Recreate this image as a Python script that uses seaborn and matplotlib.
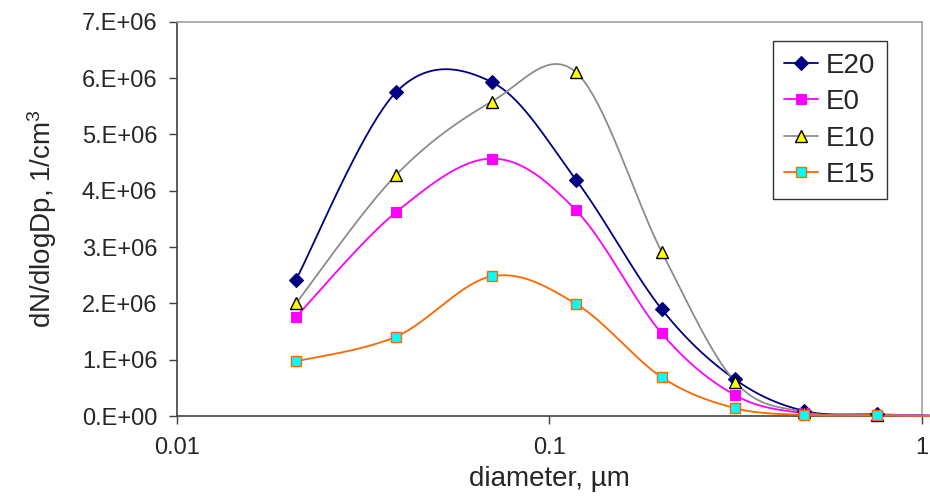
import numpy as np
import pandas as pd
import matplotlib
matplotlib.use("Agg")
import matplotlib.pyplot as plt
import seaborn as sns
from matplotlib.lines import Line2D
from matplotlib.ticker import FixedLocator, FixedFormatter, NullLocator

# ---------------- data ----------------
diameter = [0.0209, 0.0388, 0.0700, 0.118, 0.200, 0.315, 0.483, 0.759, 1.19]
E20 = [2.42e6, 5.75e6, 5.93e6, 4.19e6, 1.90e6, 0.65e6, 0.09e6, 0.03e6, 0.0]
E0 = [1.76e6, 3.62e6, 4.57e6, 3.65e6, 1.47e6, 0.37e6, 0.05e6, 0.02e6, 0.0]
E10 = [2.00e6, 4.28e6, 5.58e6, 6.10e6, 2.92e6, 0.61e6, 0.07e6, 0.02e6, 0.0]
E15 = [0.97e6, 1.41e6, 2.48e6, 1.99e6, 0.69e6, 0.14e6, 0.02e6, 0.01e6, 0.0]
series_names = ["E20", "E0", "E10", "E15"]
x_ticks = [0.01, 0.1, 1]
x_tick_labels = ["0.01", "0.1", "1"]
y_ticks = [0, 1e6, 2e6, 3e6, 4e6, 5e6, 6e6, 7e6]
y_tick_labels = ["0.E+00", "1.E+06", "2.E+06", "3.E+06", "4.E+06", "5.E+06", "6.E+06", "7.E+06"]

# ---------------- styling ----------------
sns.set_style("white")
plt.rcParams["font.family"] = ["Liberation Sans", "DejaVu Sans"]
plt.rcParams["mathtext.fontset"] = "custom"
plt.rcParams["mathtext.rm"] = "Liberation Sans"
plt.rcParams["mathtext.it"] = "Liberation Sans"

styles = {
    "E20": dict(color="#000080", marker="D", mfc="#000080", mec="#000080", ms=7.5, mew=0.8),
    "E0": dict(color="#FF00FF", marker="s", mfc="#FF00FF", mec="#FF00FF", ms=7.5, mew=0.8),
    "E10": dict(color="#8C8C8C", marker="^", mfc="#FFFF00", mec="#000000", ms=8.5, mew=1.0),
    "E15": dict(color="#FF6600", marker="s", mfc="#00FFFF", mec="#FF6600", ms=7.5, mew=1.0),
}
data = {"E20": E20, "E0": E0, "E10": E10, "E15": E15}


def smooth(xs, ys, n=40):
    """Excel-like smoothed line: Catmull-Rom Bezier in (log10 x, y)."""
    lx = np.log10(np.asarray(xs, float))
    yy = np.asarray(ys, float)
    P = np.column_stack([lx, yy])
    Pext = np.vstack([P[0], P, P[-1]])
    out = []
    t = np.linspace(0, 1, n)[:, None]
    for i in range(len(P) - 1):
        p0, p1, p2, p3 = Pext[i], Pext[i + 1], Pext[i + 2], Pext[i + 3]
        c1 = p1 + (p2 - p0) / 6.0
        c2 = p2 - (p3 - p1) / 6.0
        seg = ((1 - t) ** 3) * p1 + 3 * ((1 - t) ** 2) * t * c1 + 3 * (1 - t) * t ** 2 * c2 + t ** 3 * p2
        out.append(seg if i == 0 else seg[1:])
    seg = np.vstack(out)
    return 10 ** seg[:, 0], seg[:, 1]


fig = plt.figure(figsize=(9.3, 4.99), dpi=100)
ax = fig.add_axes([0.19, 0.1663, 0.8014, 0.7902])
ax.set_xscale("log")

for name in series_names:
    st = styles[name]
    sx, sy = smooth(diameter, data[name])
    df = pd.DataFrame({"d": sx, "v": sy})
    sns.lineplot(data=df, x="d", y="v", ax=ax, sort=False, color=st["color"], lw=1.3,
                 estimator=None, legend=False, clip_on=False, zorder=3)
    ax.plot(diameter, data[name], linestyle="none", marker=st["marker"], ms=st["ms"],
            mfc=st["mfc"], mec=st["mec"], mew=st["mew"], clip_on=False, zorder=4)

ax.set_xlim(0.01, 1)
ax.set_ylim(0, 7e6)
ax.xaxis.set_major_locator(FixedLocator(x_ticks))
ax.xaxis.set_major_formatter(FixedFormatter(x_tick_labels))
ax.xaxis.set_minor_locator(NullLocator())
ax.yaxis.set_major_locator(FixedLocator(y_ticks))
ax.yaxis.set_major_formatter(FixedFormatter(y_tick_labels))

ax.tick_params(axis="both", which="major", direction="out", length=6, width=1,
               color="#404040", labelsize=17, bottom=True, left=True)
ax.tick_params(axis="x", pad=9)
ax.tick_params(axis="y", pad=8)

for side in ["left", "bottom"]:
    ax.spines[side].set_color("#404040")
    ax.spines[side].set_linewidth(1.2)
for side in ["top", "right"]:
    ax.spines[side].set_color("#A0A0A0")
    ax.spines[side].set_linewidth(1.2)
    ax.spines[side].set_visible(True)

ax.set_xlabel("diameter, µm", fontsize=20, labelpad=5)
ax.set_ylabel(r"dN/dlogDp, 1/cm$^{3}$", fontsize=20, labelpad=16)

handles = [Line2D([0], [0], color=styles[n]["color"], lw=1.3, marker=styles[n]["marker"],
                  ms=styles[n]["ms"], mfc=styles[n]["mfc"], mec=styles[n]["mec"],
                  mew=styles[n]["mew"]) for n in series_names]
leg = ax.legend(handles, series_names, loc="upper right", bbox_to_anchor=(0.9525, 0.95),
                fontsize=20, frameon=True, fancybox=False, edgecolor="black",
                handlelength=1.2, handletextpad=0.3, borderpad=0.4, labelspacing=0.38,
                borderaxespad=0)
leg.get_frame().set_linewidth(1.0)

fig.savefig("out.png", dpi=100)
